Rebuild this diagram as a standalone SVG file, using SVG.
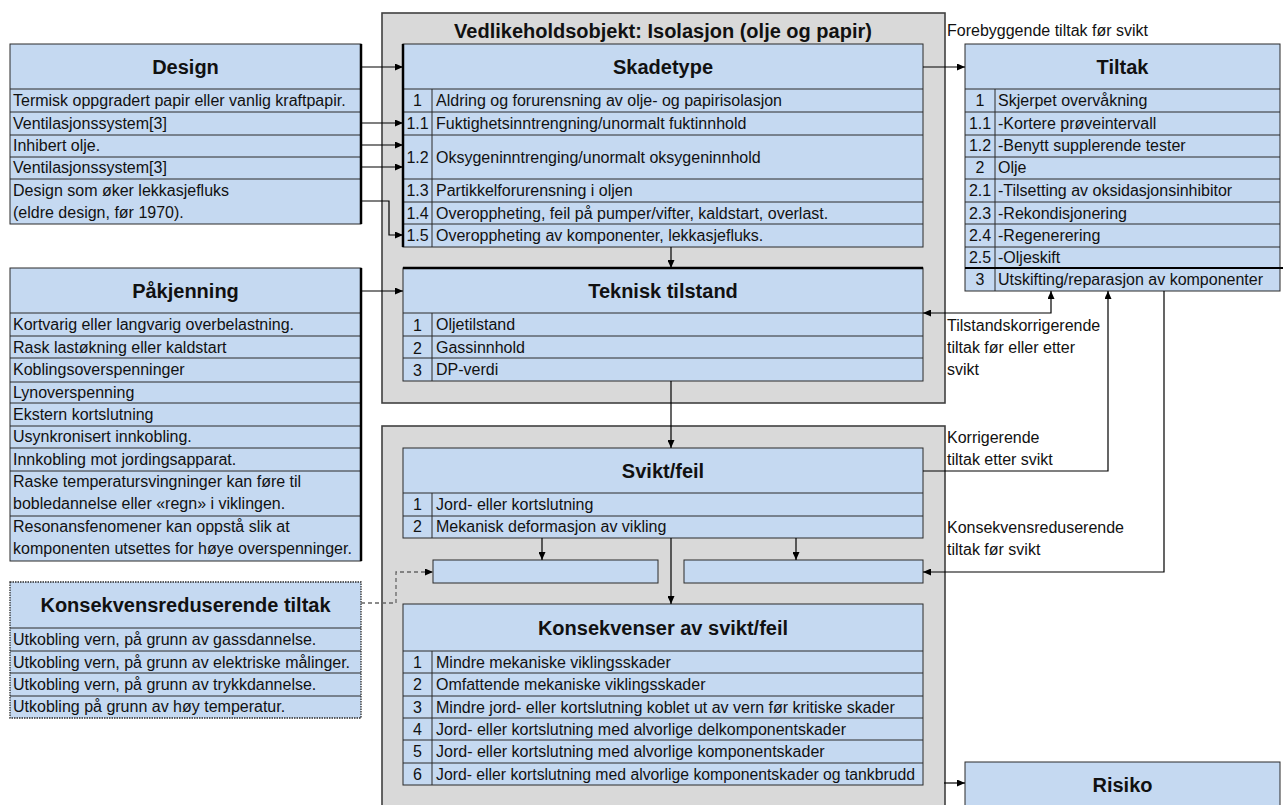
<svg xmlns="http://www.w3.org/2000/svg" width="1283" height="805" viewBox="0 0 1283 805">
<style>
.grey{fill:#d9d9d9;stroke:#404040;stroke-width:1.6}
.box{fill:#c5d9f1;stroke:#2b2b2b;stroke-width:1}
.ln{stroke:#2b2b2b;stroke-width:1;fill:none}
.thk{stroke:#000;stroke-width:2.5;fill:none}
.h{font-family:"Liberation Sans",Arial,sans-serif;font-weight:bold;font-size:20px;fill:#111;text-anchor:middle}
.t{font-family:"Liberation Sans",Arial,sans-serif;font-size:16px;fill:#111}
.n{font-family:"Liberation Sans",Arial,sans-serif;font-size:16px;fill:#111;text-anchor:middle}
.c{stroke:#000;stroke-width:1.2;fill:none}
.d{stroke:#666;stroke-width:1.3;fill:none;stroke-dasharray:4 3}
</style>
<defs>
<marker id="ar" viewBox="0 0 8 7" markerWidth="8" markerHeight="7" refX="8" refY="3.5" orient="auto-start-reverse" markerUnits="userSpaceOnUse">
<path d="M0,0 L8,3.5 L0,7 z" fill="#000"/>
</marker>
</defs>

<g id="containers">
<rect class="grey" x="382" y="13" width="563" height="390"/>
<text class="h" x="663" y="38">Vedlikeholdsobjekt: Isolasjon (olje og papir)</text>
<rect class="grey" x="382" y="426" width="563" height="400"/>
</g>

<g id="design">
<rect class="box" x="10" y="44" width="351" height="180"/>
<path class="ln" d="M10 89H361M10 112H361M10 135H361M10 157H361M10 179H361"/>
<path class="thk" d="M361 44V224"/>
<text class="h" x="185.5" y="74">Design</text>
<text class="t" x="13" y="106">Termisk oppgradert papir eller vanlig kraftpapir.</text>
<text class="t" x="13" y="129">Ventilasjonssystem[3]</text>
<text class="t" x="13" y="151">Inhibert olje.</text>
<text class="t" x="13" y="173">Ventilasjonssystem[3]</text>
<text class="t" x="13" y="196">Design som øker lekkasjefluks</text>
<text class="t" x="13" y="218">(eldre design, før 1970).</text>
</g>

<g id="pakjenning">
<rect class="box" x="10" y="268" width="351" height="293"/>
<path class="ln" d="M10 313H361M10 336H361M10 358H361M10 382H361M10 403H361M10 426H361M10 448H361M10 471H361M10 516H361"/>
<path class="thk" d="M361 268V561"/>
<text class="h" x="185.5" y="298">Påkjenning</text>
<text class="t" x="13" y="330">Kortvarig eller langvarig overbelastning.</text>
<text class="t" x="13" y="352.5">Rask lastøkning eller kaldstart</text>
<text class="t" x="13" y="375">Koblingsoverspenninger</text>
<text class="t" x="13" y="397.5">Lynoverspenning</text>
<text class="t" x="13" y="419.5">Ekstern kortslutning</text>
<text class="t" x="13" y="442">Usynkronisert innkobling.</text>
<text class="t" x="13" y="464.5">Innkobling mot jordingsapparat.</text>
<text class="t" x="13" y="487">Raske temperatursvingninger kan føre til</text>
<text class="t" x="13" y="509">bobledannelse eller «regn» i viklingen.</text>
<text class="t" x="13" y="532">Resonansfenomener kan oppstå slik at</text>
<text class="t" x="13" y="554">komponenten utsettes for høye overspenninger.</text>
</g>

<g id="konsekvensreduserende">
<rect x="10" y="582" width="351" height="136" fill="#c5d9f1" stroke="#2b2b2b" stroke-width="1.3" stroke-dasharray="1.5 1"/>
<path class="ln" d="M10 628H361M10 651H361M10 673H361M10 696H361"/>
<text class="h" x="185.5" y="612">Konsekvensreduserende tiltak</text>
<text class="t" x="13" y="645">Utkobling vern, på grunn av gassdannelse.</text>
<text class="t" x="13" y="667.5">Utkobling vern, på grunn av elektriske målinger.</text>
<text class="t" x="13" y="690">Utkobling vern, på grunn av trykkdannelse.</text>
<text class="t" x="13" y="712">Utkobling på grunn av høy temperatur.</text>
</g>

<g id="skadetype">
<rect class="box" x="403" y="44" width="520" height="203"/>
<path class="ln" d="M403 89H923M403 112H923M403 135H923M403 179H923M403 202H923M403 224H923M432 89V247"/>
<path class="thk" d="M403 44V247"/>
<text class="h" x="663" y="74">Skadetype</text>
<text class="n" x="417.5" y="106">1</text><text class="t" x="436" y="106">Aldring og forurensning av olje- og papirisolasjon</text>
<text class="n" x="417.5" y="129">1.1</text><text class="t" x="436" y="129">Fuktighetsinntrengning/unormalt fuktinnhold</text>
<text class="n" x="417.5" y="162.5">1.2</text><text class="t" x="436" y="162.5">Oksygeninntrenging/unormalt oksygeninnhold</text>
<text class="n" x="417.5" y="196">1.3</text><text class="t" x="436" y="196">Partikkelforurensning i oljen</text>
<text class="n" x="417.5" y="218.5">1.4</text><text class="t" x="436" y="218.5">Overoppheting, feil på pumper/vifter, kaldstart, overlast.</text>
<text class="n" x="417.5" y="241">1.5</text><text class="t" x="436" y="241">Overoppheting av komponenter, lekkasjefluks.</text>
</g>

<g id="teknisk-tilstand">
<rect class="box" x="403" y="268" width="520" height="113"/>
<path class="ln" d="M403 313H923M403 336H923M403 358H923M432 313V381"/>
<path class="thk" d="M403 268H923" stroke-width="2"/>
<text class="h" x="663" y="298">Teknisk tilstand</text>
<text class="n" x="417.5" y="331">1</text><text class="t" x="436" y="330">Oljetilstand</text>
<text class="n" x="417.5" y="353.5">2</text><text class="t" x="436" y="352.5">Gassinnhold</text>
<text class="n" x="417.5" y="376">3</text><text class="t" x="436" y="375">DP-verdi</text>
</g>

<g id="tiltak">
<rect class="box" x="965" y="44" width="315" height="247"/>
<path class="ln" d="M965 89H1280M965 112H1280M965 135H1280M965 157H1280M965 179H1280M965 202H1280M965 224H1280M965 247H1280M995 89V291"/>
<path d="M965 268H1283" stroke="#000" stroke-width="1.8"/>
<text class="h" x="1122.5" y="74">Tiltak</text>
<text class="n" x="980" y="106">1</text><text class="t" x="998" y="106">Skjerpet overvåkning</text>
<text class="n" x="980" y="129">1.1</text><text class="t" x="998" y="129">-Kortere prøveintervall</text>
<text class="n" x="980" y="151">1.2</text><text class="t" x="998" y="151">-Benytt supplerende tester</text>
<text class="n" x="980" y="173">2</text><text class="t" x="998" y="173">Olje</text>
<text class="n" x="980" y="196">2.1</text><text class="t" x="998" y="196">-Tilsetting av oksidasjonsinhibitor</text>
<text class="n" x="980" y="218.5">2.3</text><text class="t" x="998" y="218.5">-Rekondisjonering</text>
<text class="n" x="980" y="241">2.4</text><text class="t" x="998" y="241">-Regenerering</text>
<text class="n" x="980" y="263">2.5</text><text class="t" x="998" y="263">-Oljeskift</text>
<text class="n" x="980" y="285">3</text><text class="t" x="998" y="285">Utskifting/reparasjon av komponenter</text>
</g>

<g id="svikt-feil">
<rect class="box" x="403" y="448" width="520" height="90"/>
<path class="ln" d="M403 493H923M403 516H923M432 493V538"/>
<text class="h" x="663" y="478">Svikt/feil</text>
<text class="n" x="417.5" y="510">1</text><text class="t" x="436" y="510">Jord- eller kortslutning</text>
<text class="n" x="417.5" y="532">2</text><text class="t" x="436" y="532">Mekanisk deformasjon av vikling</text>
</g>

<g id="tom-boks-venstre">
<rect class="box" x="433" y="560" width="225" height="23" stroke-width="1.2"/>
</g>
<g id="tom-boks-hoyre">
<rect class="box" x="684" y="560" width="239" height="23" stroke-width="1.2"/>
</g>

<g id="konsekvenser">
<rect class="box" x="403" y="604" width="520" height="181"/>
<path class="ln" d="M403 651H923M403 673H923M403 696H923M403 718H923M403 740H923M403 763H923M432 651V785"/>
<text class="h" x="663" y="635">Konsekvenser av svikt/feil</text>
<text class="n" x="417.5" y="668">1</text><text class="t" x="436" y="668">Mindre mekaniske viklingsskader</text>
<text class="n" x="417.5" y="690">2</text><text class="t" x="436" y="690">Omfattende mekaniske viklingsskader</text>
<text class="n" x="417.5" y="712.5">3</text><text class="t" x="436" y="712.5">Mindre jord- eller kortslutning koblet ut av vern før kritiske skader</text>
<text class="n" x="417.5" y="735">4</text><text class="t" x="436" y="735">Jord- eller kortslutning med alvorlige delkomponentskader</text>
<text class="n" x="417.5" y="757">5</text><text class="t" x="436" y="757">Jord- eller kortslutning med alvorlige komponentskader</text>
<text class="n" x="417.5" y="779.5">6</text><text class="t" x="436" y="779.5" textLength="479" lengthAdjust="spacingAndGlyphs">Jord- eller kortslutning med alvorlige komponentskader og tankbrudd</text>
</g>

<g id="risiko">
<rect class="box" x="965" y="762" width="315" height="60"/>
<text class="h" x="1122.5" y="792">Risiko</text>
</g>

<g id="labels">
<text class="t" x="947" y="36">Forebyggende tiltak før svikt</text>
<text class="t" x="947" y="331">Tilstandskorrigerende</text>
<text class="t" x="947" y="353">tiltak før eller etter</text>
<text class="t" x="947" y="375">svikt</text>
<text class="t" x="947" y="443">Korrigerende</text>
<text class="t" x="947" y="465">tiltak etter svikt</text>
<text class="t" x="947" y="533">Konsekvensreduserende</text>
<text class="t" x="947" y="555">tiltak før svikt</text>
</g>

<g id="connectors">
<path class="c" d="M361 67H403" marker-end="url(#ar)"/>
<path class="c" d="M361 123H403" marker-end="url(#ar)"/>
<path class="c" d="M361 145H403" marker-end="url(#ar)"/>
<path class="c" d="M361 167H403" marker-end="url(#ar)"/>
<path class="c" d="M361 201H389V235H403" marker-end="url(#ar)"/>
<path class="c" d="M361 291H403" marker-end="url(#ar)"/>
<path class="c" d="M923 67H965" marker-end="url(#ar)"/>
<path class="c" d="M671 247V268" marker-end="url(#ar)"/>
<path class="c" d="M671 381V448" marker-end="url(#ar)"/>
<path class="c" d="M542 538V560" marker-end="url(#ar)"/>
<path class="c" d="M796 538V560" marker-end="url(#ar)"/>
<path class="c" d="M671 538V604" marker-end="url(#ar)"/>
<path class="c" d="M944 783H965" marker-end="url(#ar)"/>
<path class="c" d="M923 313H1051V291" marker-start="url(#ar)" marker-end="url(#ar)"/>
<path class="c" d="M923 471H1108V291" marker-end="url(#ar)"/>
<path class="c" d="M1164 291V572H923" marker-end="url(#ar)"/>
<path class="d" d="M361 603H396V572H433" marker-end="url(#ar)"/>
</g>
</svg>
